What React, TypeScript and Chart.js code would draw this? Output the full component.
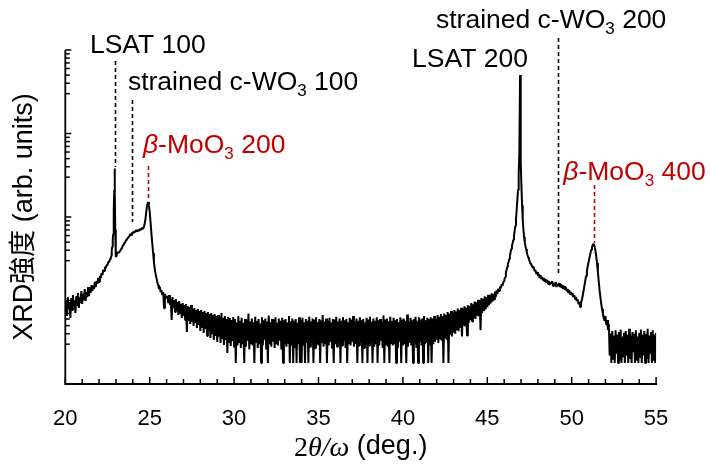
import { useEffect, useRef } from "react";
import { Chart, registerables } from "chart.js";

Chart.register(...registerables);

// ---------- data (2θ/ω in degrees, intensity in arb. units) ----------
// rising background before LSAT 100 : 20.00 .. 22.70, step 0.05
const bgStart = 20.0;
const bgStep = 0.05;
const bgCounts = [
  7.28, 10.1, 6.52, 11.0, 7.91, 9.60, 6.17, 10.7, 7.69, 11.6, 8.36, 10.1, 7.09, 11.3, 8.83, 12.3, 8.13, 11.0, 9.33, 13.0,
  9.08, 12.0, 10.1, 13.7, 9.86, 12.6, 11.0, 14.5, 11.3, 14.1, 12.3, 15.3, 13.0, 14.9, 13.7, 16.7, 14.5, 17.1, 15.8, 18.6,
  16.7, 19.7, 18.6, 21.3, 20.2, 23.2, 22.6, 25.2, 24.5, 26.6, 26.6, 28.9, 28.9, 31.4, 33.2,
];

// LSAT 100 peak : 22.72 .. 23.10, step 0.02
const lsat100Start = 22.72;
const lsat100Step = 0.02;
const lsat100Counts = [34.1, 37.1, 40.2, 43.7, 47.5, 53.0, 62.6, 80.2, 121, 211, 380, 199, 70, 38, 33.2, 34.1, 35.0, 36.1, 37.1, 38.1];

// c-WO3 100 shoulder and β-MoO3 200 peak : 23.15 .. 26.00, step 0.05
const moo200Start = 23.15;
const moo200Step = 0.05;
const moo200Counts = [
  37.1, 38.1, 39.2, 41.4, 42.5, 45.0, 46.2, 48.8, 50.1, 53.0, 54.5, 56.0, 57.5, 59.2, 62.6, 60.9, 64.2,
  66.1, 64.2, 67.9, 66.1, 69.9, 67.9, 69.9, 67.9, 71.8, 69.9, 71.8, 73.8, 71.8, 75.8, 82.4, 94.6, 118, 139, 151, 139,
  115, 87.1, 64.2, 48.8, 37.1, 28.9, 23.8, 20.8, 18.6, 16.7, 15.3, 13.7, 14.5, 12.6, 13.3, 11.6, 12.6, 8.1, 12.0, 10.7,
  11.0,
];

// tail : 26.05 .. 30.00, step 0.05
const tailStart = 26.05;
const tailStep = 0.05;
const tailCounts = [
  11.3, 9.33, 11.6, 8.83, 10.4, 5.84, 11.0, 8.13, 10.1, 7.28, 10.4, 7.69, 9.60, 6.71, 9.86, 7.09, 9.08, 6.17, 9.33,
  6.52, 8.83, 5.84, 9.08, 4.20, 8.59, 5.68, 8.36, 5.23, 8.83, 5.53, 7.91, 4.95, 8.13, 5.38, 7.69, 4.69, 7.91, 5.09, 7.49,
  4.31, 7.69, 4.82, 7.28, 4.08, 7.49, 4.56, 7.09, 3.76, 7.28, 4.31, 6.89, 3.56, 7.09, 3.97, 6.71, 3.37, 6.89, 3.76, 6.52,
  3.18, 6.71, 3.66, 6.35, 3.10, 7.09, 3.46, 6.17, 2.93, 6.52, 3.37, 6.00, 2.35, 6.35, 3.18, 6.17, 2.85, 5.84, 3.27, 6.35,
  2.77,
];

// flat noisy background : 30.05 .. 41.45, step 0.05
const flatStart = 30.05;
const flatStep = 0.05;
const flatCounts = [
  6.0, 1.78, 5.5, 2.9, 6.5, 3.1, 5.7, 2.7, 6.2, 3.0, 5.4, 1.78, 6.0, 2.8, 5.8, 3.3, 7.0, 2.6, 5.6, 3.0,
  6.1, 2.9, 5.5, 1.78, 6.4, 3.2, 5.7, 2.7, 6.0, 3.0, 5.3, 1.78, 6.3, 2.9, 5.8, 3.4, 6.1, 2.6, 5.6, 1.78,
  6.6, 3.0, 5.5, 2.8, 6.0, 3.2, 5.9, 2.7, 6.3, 3.0, 5.4, 2.9, 6.1, 3.3, 5.7, 2.6, 6.2, 1.78, 5.8, 3.0,
  6.0, 2.8, 5.5, 3.1, 6.5, 1.78, 5.6, 2.9, 6.1, 1.78, 5.7, 2.7, 6.0, 1.78, 5.4, 3.0, 6.3, 1.78, 5.8, 1.78,
  6.2, 2.9, 5.5, 1.78, 6.0, 3.1, 5.7, 1.78, 6.4, 2.8, 5.6, 3.2, 6.1, 1.78, 5.9, 2.7, 6.3, 3.0, 5.5, 2.9,
  6.0, 1.78, 5.8, 3.1, 6.7, 2.8, 5.6, 3.0, 6.1, 1.78, 5.7, 2.9, 6.2, 3.2, 5.5, 2.7, 6.0, 1.78, 5.9, 3.0,
  6.4, 2.8, 5.6, 3.1, 6.1, 1.78, 5.7, 2.9, 6.3, 3.3, 5.8, 2.7, 6.0, 1.78, 5.5, 3.0, 6.2, 2.9, 5.9, 3.2,
  6.5, 2.8, 5.6, 3.0, 6.1, 1.78, 5.7, 2.9, 6.3, 3.1, 5.8, 1.78, 6.0, 2.7, 5.5, 3.0, 6.2, 1.78, 5.9, 2.9,
  6.4, 3.2, 5.6, 1.78, 6.1, 2.8, 5.7, 3.0, 6.3, 1.78, 5.8, 2.9, 6.0, 3.3, 5.5, 2.7, 6.6, 1.78, 5.9, 3.0,
  6.1, 2.8, 5.6, 1.78, 6.4, 3.1, 5.7, 2.9, 6.2, 3.0, 5.8, 1.78, 6.0, 2.7, 5.5, 3.2, 6.3, 1.78, 5.9, 2.9,
  6.1, 3.0, 5.7, 1.78, 6.8, 2.8, 5.6, 3.1, 6.2, 2.9, 5.8, 1.78, 6.0, 3.0, 6.4, 2.7, 5.7, 1.78, 6.3, 3.2,
  5.9, 2.9, 6.1, 1.78, 6.5, 3.0, 5.8, 3.1, 6.2,
];

// rise towards LSAT 200 : 41.50 .. 46.00, step 0.05
const riseStart = 41.5;
const riseStep = 0.05;
const riseCounts = [
  1.78, 6.0, 2.9, 6.3, 1.78, 6.1, 3.0, 6.5, 3.2, 6.0,
  3.4, 6.7, 3.1, 6.4, 3.5, 6.9, 3.3, 6.5, 1.78, 7.0, 3.6, 6.7, 3.4, 7.3, 1.78, 7.0, 3.9, 7.5, 3.7, 7.2,
  4.1, 7.7, 4.0, 7.4, 4.4, 8.0, 4.3, 7.7, 4.7, 8.2, 3.7, 8.0, 5.0, 8.5, 4.9, 8.2, 3.8, 8.8, 5.4, 8.6,
  5.8, 9.3, 5.6, 9.0, 6.2, 9.7, 6.0, 9.5, 6.6, 10.2, 6.5, 10.0, 4.4, 10.7, 7.1, 10.5, 7.5, 11.2, 7.8, 11.0,
  8.3, 11.7, 8.8, 11.5, 9.2, 12.2, 9.7, 12.0, 10.3, 12.8, 11.0, 13.2, 12.0, 13.9, 13.0, 14.7, 14.0, 15.6, 15.0, 16.6,
  17.1,
];

// LSAT 200 peak : 46.02 .. 47.62, step 0.04
const lsat200Start = 46.02;
const lsat200Step = 0.04;
const lsat200Counts = [18.1, 19.1, 21.3, 23.2, 25.2, 27.4, 28.9, 31.4, 34.1, 38.1, 41.4, 45.0, 48.8, 53.0, 59.2, 68.0, 78.0, 94.6, 121, 160, 211, 330, 600, 5020, 450, 240, 139, 92, 69.9, 57.5, 50.1, 45.0, 41.4, 38.1, 35.0, 33.2, 31.4, 29.7, 28.1, 27.4, 26.6];

// c-WO3 200 shoulder and β-MoO3 400 peak : 47.65 .. 52.20, step 0.05
const moo400Start = 47.65;
const moo400Step = 0.05;
const moo400Counts = [
  25.9, 24.5, 25.2, 22.6, 23.2, 20.8, 22.0,
  19.7, 20.8, 18.6, 20.2, 18.1, 19.1, 17.6, 18.6, 16.7, 18.1, 16.2, 17.6, 15.8, 17.1, 15.3, 16.7, 15.8, 17.1, 14.9, 16.2,
  14.9, 16.7, 14.5, 15.8, 14.9, 16.2, 14.5, 15.8, 14.1, 15.3, 13.7, 14.9, 13.4, 14.5, 13.0, 13.7, 12.3, 13.4, 12.0, 12.6,
  11.6, 12.3, 11.0, 11.6, 10.4, 11.0, 9.86, 10.4, 9.08, 9.60, 8.36, 9.33, 10.1, 11.3, 13.0, 14.9, 17.1, 19.7, 22.6, 25.9,
  28.9, 32.3, 36.1, 40.2, 43.7, 46.2, 47.5, 45.0, 40.2, 34.1, 28.1, 22.0, 17.1, 13.4, 11.0, 9.08, 7.91, 6.89, 6.17, 5.68,
  6.52, 5.09, 5.84, 4.43, 5.23,
];

// noisy background after β-MoO3 400 : 52.25 .. 55.00, step 0.05
const endStart = 52.25;
const endStep = 0.05;
const endCounts = [
  2.2, 4.0, 1.78, 4.3, 2.0, 3.8, 1.78, 4.4, 2.3, 3.9, 1.78, 4.2, 1.9, 4.5, 1.78,
  3.7, 2.1, 4.1, 1.78, 4.3, 2.2, 3.9, 1.78, 4.6, 2.0, 3.8, 1.78, 4.2, 2.4, 4.0, 1.78, 4.4, 1.9, 3.7, 1.78,
  4.1, 2.1, 4.5, 1.78, 3.9, 2.2, 4.3, 1.78, 4.0, 2.0, 4.6, 1.78, 3.8, 2.3, 4.2, 1.78, 4.4, 1.9, 3.9, 1.78,
  4.1,
];

const segments: [number, number, number[]][] = [
  [bgStart, bgStep, bgCounts],
  [lsat100Start, lsat100Step, lsat100Counts],
  [moo200Start, moo200Step, moo200Counts],
  [tailStart, tailStep, tailCounts],
  [flatStart, flatStep, flatCounts],
  [riseStart, riseStep, riseCounts],
  [lsat200Start, lsat200Step, lsat200Counts],
  [moo400Start, moo400Step, moo400Counts],
  [endStart, endStep, endCounts],
];

// axis
const xMin = 20;
const xMax = 55;
const xMajorTicks = [20, 25, 30, 35, 40, 45, 50, 55];
const yMin = 1;
const yMax = 10000;
const yDecades = [1, 10, 100, 1000, 10000];
const yMinorFactors = [3, 4, 5, 6, 7, 8, 9];

// reflection markers (angle, top and bottom intensity of the dashed line)
const markerAngles = [22.93, 23.95, 24.92, 49.17, 51.3];
const markerTops = [7380, 2518, 408, 13930, 242];
const markerBottoms = [397, 87, 164, 21.3, 48.8];
const markerIsMoO3 = [false, false, true, false, true];

// peak labels: runs of [text, kind]; kind: n normal, i italic, s subscript
type Run = [string, string];
const labelRuns: Run[][] = [
  [["LSAT 100", "n"]],
  [["strained c-WO", "n"], ["3", "s"], [" 100", "n"]],
  [["β", "i"], ["-MoO", "n"], ["3", "s"], [" 200", "n"]],
  [["strained c-WO", "n"], ["3", "s"], [" 200", "n"]],
  [["LSAT 200", "n"]],
  [["β", "i"], ["-MoO", "n"], ["3", "s"], [" 400", "n"]],
];
const labelAngles = [21.46, 23.71, 24.6, 41.96, 40.54, 49.5];
const labelLevels = [9205, 3319, 584, 18340, 6258, 277];
const labelIsMoO3 = [false, false, true, false, false, true];

const yTitle = "XRD強度 (arb. units)";
const xTitleNumber = "2";
const xTitleSymbols = "θ/ω";
const xTitleUnit = " (deg.)";

const RED = "#c00000";
const SANS = "'Liberation Sans', Arial, 'Noto Sans CJK JP', sans-serif";
const SERIF = "'Liberation Serif', 'DejaVu Serif', serif";

const decorPlugin = {
  id: "xrdDecor",
  afterDatasetsDraw(chart: any) {
    const { ctx, chartArea } = chart;
    const xs = chart.scales.x;
    const ys = chart.scales.y;
    const left = chartArea.left;
    const bottom = chartArea.bottom;
    ctx.save();

    // dashed marker lines
    ctx.lineWidth = 1.6;
    ctx.setLineDash([4, 3]);
    markerAngles.forEach((a, i) => {
      const px = Math.round(xs.getPixelForValue(a)) + 0.5;
      ctx.strokeStyle = markerIsMoO3[i] ? RED : "#000";
      ctx.beginPath();
      ctx.moveTo(px, ys.getPixelForValue(markerTops[i]));
      ctx.lineTo(px, ys.getPixelForValue(markerBottoms[i]));
      ctx.stroke();
    });
    ctx.setLineDash([]);

    // labels
    ctx.textBaseline = "alphabetic";
    ctx.textAlign = "left";
    labelRuns.forEach((runs, i) => {
      let px = xs.getPixelForValue(labelAngles[i]);
      const py = ys.getPixelForValue(labelLevels[i]);
      ctx.fillStyle = labelIsMoO3[i] ? RED : "#000";
      runs.forEach(([t, k]) => {
        let dy = 0;
        if (k === "s") {
          ctx.font = `17px ${SANS}`;
          dy = 6;
        } else if (k === "i") {
          ctx.font = `italic 26.5px ${SANS}`;
        } else {
          ctx.font = `26.5px ${SANS}`;
        }
        ctx.fillText(t, px, py + dy);
        px += ctx.measureText(t).width;
      });
    });

    // axes lines
    ctx.strokeStyle = "#000";
    ctx.lineWidth = 1.8;
    ctx.beginPath();
    ctx.moveTo(left, chartArea.top);
    ctx.lineTo(left, bottom);
    ctx.lineTo(chartArea.right + 1, bottom);
    ctx.stroke();

    // x ticks (inward)
    ctx.lineWidth = 1.5;
    for (let v = xMin; v <= xMax; v += 1) {
      const px = xs.getPixelForValue(v);
      const len = v % 5 === 0 ? 7 : 5;
      ctx.beginPath();
      ctx.moveTo(px, bottom);
      ctx.lineTo(px, bottom - len);
      ctx.stroke();
    }
    // y ticks (inward)
    yDecades.forEach((d, di) => {
      const py = ys.getPixelForValue(d);
      ctx.beginPath();
      ctx.moveTo(left, py);
      ctx.lineTo(left + 6, py);
      ctx.stroke();
      if (di < yDecades.length - 1) {
        yMinorFactors.forEach((f) => {
          const pm = ys.getPixelForValue(d * f);
          ctx.beginPath();
          ctx.moveTo(left, pm);
          ctx.lineTo(left + 4.5, pm);
          ctx.stroke();
        });
      }
    });

    // x tick labels
    ctx.fillStyle = "#000";
    ctx.font = `22px ${SANS}`;
    ctx.textAlign = "center";
    xMajorTicks.forEach((v) => {
      ctx.fillText(String(v), xs.getPixelForValue(v), bottom + 41);
    });

    // x title
    ctx.textAlign = "left";
    const f1 = `28px ${SERIF}`;
    const f2 = `italic 28px ${SERIF}`;
    const f3 = `27px ${SANS}`;
    ctx.font = f1;
    const w1 = ctx.measureText(xTitleNumber).width;
    ctx.font = f2;
    const w2 = ctx.measureText(xTitleSymbols).width;
    ctx.font = f3;
    const w3 = ctx.measureText(xTitleUnit).width;
    let tx = (chartArea.left + chartArea.right) / 2 - (w1 + w2 + w3) / 2;
    const ty = bottom + 72;
    ctx.font = f1;
    ctx.fillText(xTitleNumber, tx, ty);
    tx += w1;
    ctx.font = f2;
    ctx.fillText(xTitleSymbols, tx, ty);
    tx += w2;
    ctx.font = f3;
    ctx.fillText(xTitleUnit, tx, ty - 2);

    // y title
    ctx.save();
    ctx.translate(25, (chartArea.top + bottom) / 2);
    ctx.rotate(-Math.PI / 2);
    ctx.font = `27px ${SANS}`;
    ctx.textAlign = "center";
    ctx.textBaseline = "middle";
    ctx.fillText(yTitle, 0, 0);
    ctx.restore();

    ctx.restore();
  },
};

export default function App() {
  const ref = useRef<HTMLCanvasElement>(null);
  useEffect(() => {
    const points: { x: number; y: number }[] = [];
    segments.forEach(([start, step, vals]) => {
      vals.forEach((v, i) => {
        points.push({ x: Math.round((start + i * step) * 1000) / 1000, y: v });
      });
    });
    const chart = new Chart(ref.current as HTMLCanvasElement, {
      type: "line",
      data: {
        datasets: [
          {
            data: points,
            borderColor: "#000",
            borderWidth: 2,
            borderJoinStyle: "bevel",
            pointRadius: 0,
            tension: 0,
            fill: false,
          },
        ],
      },
      options: {
        animation: false,
        responsive: true,
        maintainAspectRatio: false,
        events: [],
        layout: { padding: { left: 65.3, right: 53.9, top: 50, bottom: 82 } },
        plugins: { legend: { display: false }, tooltip: { enabled: false } },
        scales: {
          x: { type: "linear", min: xMin, max: xMax, display: false },
          y: { type: "logarithmic", min: yMin, max: yMax, display: false },
        },
      },
      plugins: [decorPlugin],
    } as any);
    return () => chart.destroy();
  }, []);
  return (
    <div style={{ position: "fixed", left: 0, top: 0, width: 710, height: 466, background: "#fff" }}>
      <canvas ref={ref} />
    </div>
  );
}
